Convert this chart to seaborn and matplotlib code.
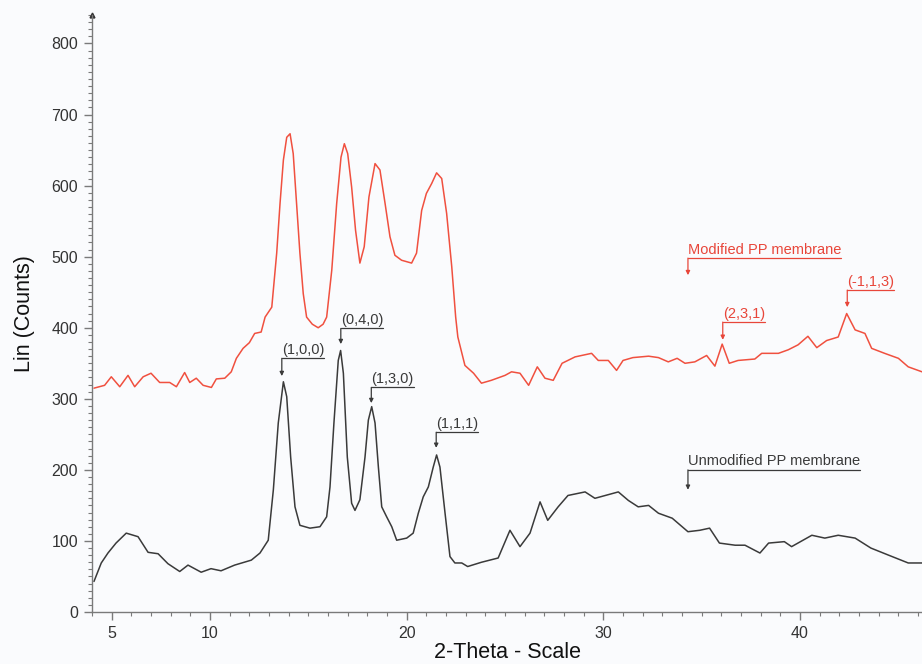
import numpy as np
import pandas as pd
import matplotlib
matplotlib.use("Agg")
import matplotlib.pyplot as plt
from matplotlib.ticker import FixedLocator, MultipleLocator
import matplotlib.transforms as mtransforms
import seaborn as sns

# --- XRD patterns (2-theta in degrees, intensity in counts) ---
unmod_2theta = [4.1, 4.47, 4.81, 5.22, 5.74, 6.34, 6.85, 7.36, 7.86, 8.46, 8.88, 9.55,
                10.05, 10.56, 11.25, 12.1, 12.54, 12.96, 13.22, 13.47, 13.73, 13.9, 14.1,
                14.32, 14.57, 15.08, 15.59, 15.93, 16.1, 16.3, 16.52, 16.64, 16.78, 16.98,
                17.2, 17.37, 17.62, 17.88, 18.05, 18.22, 18.39, 18.56, 18.73, 18.98, 19.24,
                19.49, 20.0, 20.33, 20.59, 20.84, 21.1, 21.35, 21.52, 21.69, 21.95, 22.2,
                22.45, 22.8, 23.1, 23.8, 24.65, 25.25, 25.76, 26.27, 26.78, 27.17, 27.7,
                28.2, 29.07, 29.57, 30.76, 31.27, 31.77, 32.3, 32.8, 33.5, 34.3, 34.9,
                35.4, 35.9, 36.7, 37.2, 37.96, 38.4, 39.2, 39.57, 40.6, 41.26, 41.94,
                42.8, 43.6, 44.5, 45.5, 46.2]
unmod_counts = [43, 69, 83, 97, 111, 106, 84, 82, 68, 57, 66, 56,
                61, 58, 66, 73, 83, 101, 172, 266, 324, 303, 218,
                148, 122, 118, 120, 134, 176, 266, 354, 368, 336, 218,
                153, 143, 158, 218, 270, 289, 266, 204, 148, 134, 120,
                101, 104, 111, 139, 162, 176, 204, 221, 204, 139, 78,
                69, 69, 64, 70, 76, 115, 92, 111, 155, 129, 148,
                164, 169, 160, 169, 157, 148, 150, 139, 132, 113, 115,
                118, 97, 94, 94, 83, 97, 99, 92, 108, 104, 108,
                104, 90, 80, 69, 69]

mod_2theta = [4.1, 4.64, 4.98, 5.41, 5.83, 6.17, 6.6, 7.0, 7.44, 7.95, 8.29, 8.71,
              8.97, 9.3, 9.65, 10.07, 10.32, 10.75, 11.08, 11.34, 11.68, 12.0, 12.27,
              12.6, 12.8, 13.14, 13.39, 13.56, 13.73, 13.9, 14.07, 14.23, 14.4, 14.57,
              14.74, 14.91, 15.2, 15.5, 15.75, 15.93, 16.19, 16.44, 16.66, 16.83, 17.0,
              17.2, 17.4, 17.62, 17.84, 18.08, 18.39, 18.64, 18.9, 19.15, 19.4, 19.74,
              20.25, 20.5, 20.76, 21.0, 21.27, 21.52, 21.78, 22.03, 22.29, 22.49, 22.6,
              22.96, 23.4, 23.8, 24.3, 25.0, 25.33, 25.76, 26.2, 26.64, 27.03, 27.45,
              27.9, 28.56, 29.4, 29.74, 30.25, 30.67, 31.0, 31.5, 32.3, 32.8, 33.3,
              33.75, 34.15, 34.65, 35.25, 35.67, 36.04, 36.4, 36.85, 37.7, 38.05, 38.9,
              39.4, 39.9, 40.4, 40.85, 41.35, 41.94, 42.37, 42.8, 43.3, 43.64, 44.3,
              45.0, 45.5, 46.2]
mod_counts = [315, 319, 331, 317, 333, 317, 331, 336, 323, 323, 317, 337,
              323, 329, 319, 316, 328, 329, 338, 357, 371, 379, 392,
              394, 415, 429, 505, 575, 636, 668, 673, 645, 575, 505,
              448, 415, 405, 400, 405, 415, 481, 575, 640, 659, 645,
              598, 537, 491, 514, 584, 631, 622, 575, 528, 502, 495,
              491, 505, 565, 589, 603, 618, 610, 561, 486, 415, 387,
              347, 336, 322, 326, 333, 338, 336, 319, 345, 329, 326,
              350, 359, 364, 354, 354, 340, 354, 358, 360, 358, 352,
              357, 350, 352, 361, 346, 377, 350, 354, 356, 364, 364,
              369, 376, 388, 372, 382, 387, 420, 397, 392, 371, 364,
              357, 345, 338]

series_names = ["Unmodified PP membrane", "Modified PP membrane"]
series_colors = ["#3a3a3a", "#f0503f"]

# Peak / curve labels: text, 2-theta of the pointer, height of the underline, tip height
unmod_labels = ["(1,0,0)", "(0,4,0)", "(1,3,0)", "(1,1,1)", "Unmodified PP membrane"]
unmod_label_x = [13.65, 16.65, 18.2, 21.5, 34.3]
unmod_label_line = [357, 399, 316, 253, 200]
unmod_label_tip = [332, 377, 294, 231, 172]

mod_labels = ["Modified PP membrane", "(2,3,1)", "(-1,1,3)"]
mod_label_x = [34.3, 36.07, 42.4]
mod_label_line = [498, 408, 453]
mod_label_tip = [474, 383, 429]

x_ticks = [5, 10, 20, 30, 40]

df = pd.concat([
    pd.DataFrame({"two_theta": unmod_2theta, "counts": unmod_counts, "sample": series_names[0]}),
    pd.DataFrame({"two_theta": mod_2theta, "counts": mod_counts, "sample": series_names[1]}),
], ignore_index=True)

sns.set_theme(style="ticks")
plt.rcParams["font.family"] = ["Liberation Sans", "DejaVu Sans"]

bg = "#fafbfd"
fig = plt.figure(figsize=(9.22, 6.64), dpi=100, facecolor=bg)
ax = fig.add_axes([0.0998, 0.0783, 0.9002, 0.899])
ax.set_facecolor(bg)

sns.lineplot(data=df, x="two_theta", y="counts", hue="sample",
             palette=dict(zip(series_names, series_colors)),
             sort=False, estimator=None, linewidth=1.1, legend=False, ax=ax)

ax.set_xlim(4.0, 46.2)
ax.set_ylim(0, 840)

axis_grey = "#7a7a7a"
for side in ["top", "right"]:
    ax.spines[side].set_visible(False)
for side in ["left", "bottom"]:
    ax.spines[side].set_color(axis_grey)
    ax.spines[side].set_linewidth(1.0)

ax.xaxis.set_major_locator(FixedLocator(x_ticks))
ax.xaxis.set_minor_locator(MultipleLocator(1))
ax.yaxis.set_major_locator(MultipleLocator(100))
ax.yaxis.set_minor_locator(MultipleLocator(10))
ax.tick_params(which="major", length=6, width=1.0, color=axis_grey,
               labelsize=11.5, labelcolor="#333333", pad=4)
ax.tick_params(which="minor", length=3, width=0.8, color=axis_grey)

ax.set_xlabel("2-Theta - Scale", fontsize=15.5, color="#111111", labelpad=1)
ax.set_ylabel("Lin (Counts)", fontsize=15.5, color="#111111", labelpad=12)

# small arrowhead at the top of the intensity axis
ax.plot([0], [1], marker="^", markersize=3.5, color="#333333",
        transform=ax.transAxes, clip_on=False)


def draw_labels(texts, xs, ys_line, ys_tip, color):
    text_offset = mtransforms.offset_copy(ax.transData, fig=fig, x=0, y=1.5, units="dots")
    fig.canvas.draw()
    renderer = fig.canvas.get_renderer()
    for label, x, yl, yt in zip(texts, xs, ys_line, ys_tip):
        t = ax.text(x, yl, label, fontsize=10.5, color=color, ha="left", va="bottom",
                    transform=text_offset)
        bb = t.get_window_extent(renderer=renderer)
        x_end = ax.transData.inverted().transform((bb.x1, bb.y0))[0]
        ax.plot([x, x_end], [yl, yl], color=color, linewidth=0.9)
        ax.annotate("", xy=(x, yt), xytext=(x, yl),
                    arrowprops=dict(arrowstyle="-|>", color=color, lw=0.9,
                                    mutation_scale=6, shrinkA=0, shrinkB=0))


draw_labels(unmod_labels, unmod_label_x, unmod_label_line, unmod_label_tip, "#3a3a3a")
draw_labels(mod_labels, mod_label_x, mod_label_line, mod_label_tip, "#e8463a")

fig.savefig("out.png", dpi=100, facecolor=bg)
